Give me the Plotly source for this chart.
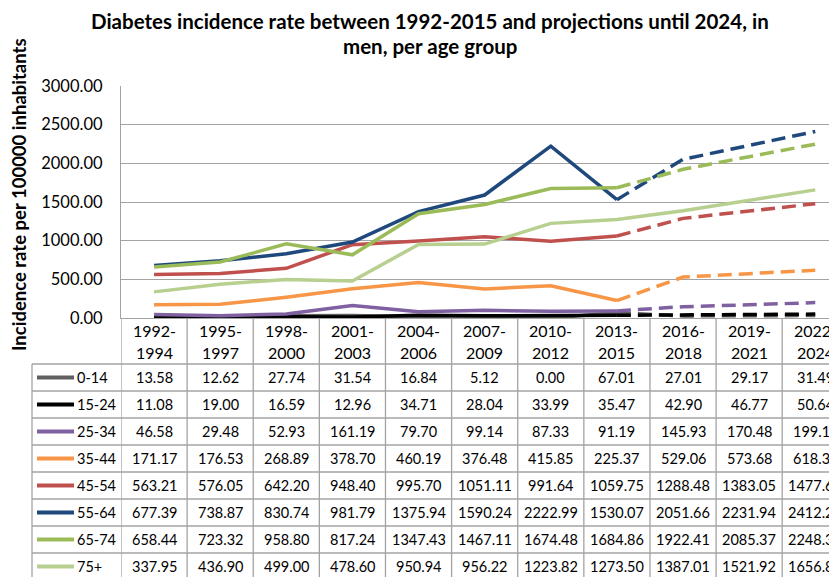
import plotly.graph_objects as go

periods = ["1992-1994", "1995-1997", "1998-2000", "2001-2003", "2004-2006", "2007-2009",
           "2010-2012", "2013-2015", "2016-2018", "2019-2021", "2022-2024"]
age_groups = ["0-14", "15-24", "25-34", "35-44", "45-54", "55-64", "65-74", "75+"]

rate_0_14 = [13.58, 12.62, 27.74, 31.54, 16.84, 5.12, 0.00, 67.01, 27.01, 29.17, 31.49]
rate_15_24 = [11.08, 19.00, 16.59, 12.96, 34.71, 28.04, 33.99, 35.47, 42.90, 46.77, 50.64]
rate_25_34 = [46.58, 29.48, 52.93, 161.19, 79.70, 99.14, 87.33, 91.19, 145.93, 170.48, 199.17]
rate_35_44 = [171.17, 176.53, 268.89, 378.70, 460.19, 376.48, 415.85, 225.37, 529.06, 573.68, 618.30]
rate_45_54 = [563.21, 576.05, 642.20, 948.40, 995.70, 1051.11, 991.64, 1059.75, 1288.48, 1383.05, 1477.62]
rate_55_64 = [677.39, 738.87, 830.74, 981.79, 1375.94, 1590.24, 2222.99, 1530.07, 2051.66, 2231.94, 2412.22]
rate_65_74 = [658.44, 723.32, 958.80, 817.24, 1347.43, 1467.11, 1674.48, 1684.86, 1922.41, 2085.37, 2248.33]
rate_75_plus = [337.95, 436.90, 499.00, 478.60, 950.94, 956.22, 1223.82, 1273.50, 1387.01, 1521.92, 1656.82]

title_lines = ["Diabetes incidence rate between 1992-2015 and projections until 2024, in",
               "men, per age group"]
y_title = "Incidence rate per 100000 inhabitants"

series = [rate_0_14, rate_15_24, rate_25_34, rate_35_44, rate_45_54, rate_55_64, rate_65_74, rate_75_plus]
colors = ["#606060", "#000000", "#7F60A0", "#F79646", "#C0504D", "#1F497D", "#9BBB59", "#B7CF8F"]
dashed_projection = [True, True, True, True, True, True, True, False]
last_observed = 7  # index of 2013-2015

# page offset (browser body margin) compensation
OFF = 8
W, H = 837 - OFF, 577 - OFF
L, R, T, B = 121 - OFF, 0, 86 - OFF, 577 - 318
plot_w = W - L - R
plot_h = H - T - B
col_w = 66.12
x_max = -0.5 + plot_w / col_w

FONT = "Lato, 'Open Sans', sans-serif"
GRID = "#A3A3A3"


def px_x(px):
    """reference-screen x pixel -> paper x"""
    return (px - OFF - L) / plot_w


def px_y(py):
    """reference-screen y pixel -> paper y"""
    return (H - B - (py - OFF)) / plot_h


fig = go.Figure()
idx = list(range(len(periods)))
for name, vals, col, dash in zip(age_groups, series, colors, dashed_projection):
    if dash:
        fig.add_trace(go.Scatter(x=idx[:last_observed + 1], y=vals[:last_observed + 1], mode="lines",
                                 line=dict(color=col, width=3.5), name=name, showlegend=False,
                                 hoverinfo="skip"))
        fig.add_trace(go.Scatter(x=idx[last_observed:], y=vals[last_observed:], mode="lines",
                                 line=dict(color=col, width=3.5, dash="14px,7px"), name=name,
                                 showlegend=False, hoverinfo="skip"))
    else:
        fig.add_trace(go.Scatter(x=idx, y=vals, mode="lines", line=dict(color=col, width=3.5),
                                 name=name, showlegend=False, hoverinfo="skip"))

shapes = []
annotations = []
header_bottom = 364
row_h = 27
table_left = 32
axis_py = 318

# vertical column separators from axis down to bottom
for k in range(len(periods) + 1):
    shapes.append(dict(type="line", xref="x", yref="paper", x0=k - 0.5, x1=k - 0.5,
                       y0=px_y(axis_py), y1=px_y(590), line=dict(color=GRID, width=1.3)))
# left border of table
shapes.append(dict(type="line", xref="paper", yref="paper", x0=px_x(table_left), x1=px_x(table_left),
                   y0=px_y(header_bottom), y1=px_y(590), line=dict(color=GRID, width=1.3)))
# horizontal row lines
for r in range(len(age_groups)):
    yy = px_y(header_bottom + r * row_h)
    shapes.append(dict(type="line", xref="paper", yref="paper", x0=px_x(table_left), x1=1.02,
                       y0=yy, y1=yy, line=dict(color=GRID, width=1.3)))

# header labels (category names split over two lines)
for k, p in enumerate(periods):
    a, b = p.split("-")
    annotations.append(dict(xref="x", yref="paper", x=k, y=px_y(330), text=a + "-",
                            showarrow=False, font=dict(family=FONT, size=16, color="#000"),
                            yanchor="middle"))
    annotations.append(dict(xref="x", yref="paper", x=k, y=px_y(352), text=b,
                            showarrow=False, font=dict(family=FONT, size=16, color="#000"),
                            yanchor="middle"))

# rows
for r, (name, vals, col) in enumerate(zip(age_groups, series, colors)):
    cy = header_bottom + r * row_h + row_h / 2
    shapes.append(dict(type="line", xref="paper", yref="paper", x0=px_x(37), x1=px_x(74),
                       y0=px_y(cy), y1=px_y(cy), line=dict(color=col, width=4)))
    annotations.append(dict(xref="paper", yref="paper", x=px_x(75), y=px_y(cy), text=name,
                            xanchor="left", yanchor="middle", showarrow=False,
                            font=dict(family=FONT, size=14.5, color="#000")))
    for k, v in enumerate(vals):
        annotations.append(dict(xref="x", yref="paper", x=k, y=px_y(cy), text=f"{v:.2f}",
                                showarrow=False, yanchor="middle",
                                font=dict(family=FONT, size=14.5, color="#000")))

# y axis title
annotations.append(dict(xref="paper", yref="paper", x=px_x(19), y=px_y(195),
                        text="<b>" + y_title + "</b>", textangle=-90,
                        showarrow=False, font=dict(family=FONT, size=18.5, color="#000"),
                        xanchor="center", yanchor="middle"))

# chart title (two lines)
for line_text, cy in zip(title_lines, [21, 46]):
    annotations.append(dict(xref="paper", yref="paper", x=px_x(430), y=px_y(cy),
                            text="<b>" + line_text + "</b>", showarrow=False,
                            font=dict(family=FONT, size=20.5, color="#000"),
                            xanchor="center", yanchor="middle"))

fig.update_layout(
    width=W, height=H,
    margin=dict(l=L, r=R, t=T, b=B, pad=0),
    paper_bgcolor="white", plot_bgcolor="white",
    xaxis=dict(range=[-0.5, x_max], showticklabels=False, showgrid=False, zeroline=False,
               showline=True, linecolor=GRID, linewidth=1.3, fixedrange=True),
    yaxis=dict(range=[0, 3000], dtick=500, tickformat=".2f", showgrid=True, gridcolor=GRID,
               gridwidth=1.3, zeroline=False, showline=True, linecolor=GRID, linewidth=1.3,
               tickfont=dict(family=FONT, size=16.5, color="#000"), ticklabelstandoff=14,
               fixedrange=True),
    shapes=shapes,
    annotations=annotations,
)

fig.write_html("out.html")
